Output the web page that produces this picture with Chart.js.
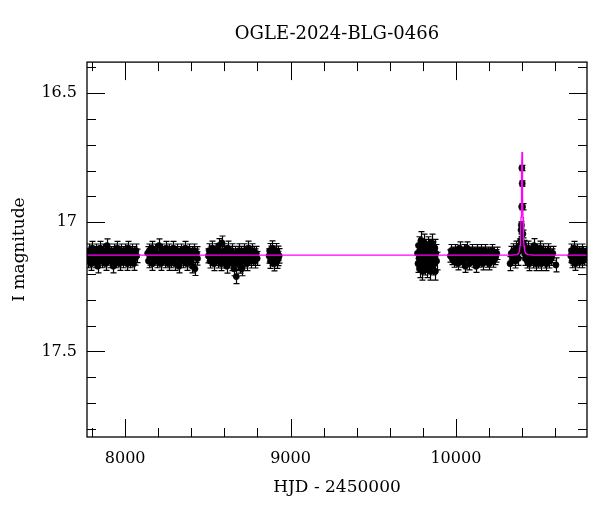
<!DOCTYPE html>
<html>
  <head>
    <script src="https://cdn.jsdelivr.net/npm/chart.js@4.4.1/dist/chart.umd.min.js"></script>
    <style>
      body {
        margin: 0;
        background: white;
      }
    </style>
  </head>
  <body>
    <canvas id="myChart" width="600" height="512"></canvas>
    <script>
      // Photometry, one array per observing season: [HJD - 2450000, I mag]
      var season1 = [
        [7772, 17.13], [7777, 17.15], [7782, 17.11], [7787, 17.14], [7791, 17.12], [7796, 17.16], [7801, 17.10], [7805, 17.13],
        [7810, 17.14], [7815, 17.12], [7820, 17.15], [7824, 17.11], [7829, 17.13], [7834, 17.17], [7838, 17.12], [7843, 17.14],
        [7848, 17.10], [7853, 17.13], [7857, 17.15], [7862, 17.12], [7867, 17.11], [7871, 17.14], [7876, 17.13], [7881, 17.16],
        [7886, 17.12], [7890, 17.09], [7895, 17.14], [7900, 17.13], [7904, 17.11], [7909, 17.15], [7914, 17.12], [7919, 17.14],
        [7923, 17.13], [7928, 17.17], [7933, 17.11], [7937, 17.12], [7942, 17.15], [7947, 17.13], [7952, 17.10], [7956, 17.14],
        [7961, 17.12], [7966, 17.16], [7970, 17.13], [7975, 17.11], [7980, 17.14], [7985, 17.12], [7989, 17.15], [7994, 17.13],
        [7999, 17.11], [8003, 17.14], [8008, 17.12], [8013, 17.16], [8018, 17.10], [8022, 17.13], [8027, 17.15], [8032, 17.12],
        [8036, 17.14], [8041, 17.11], [8046, 17.13], [8051, 17.16], [8055, 17.12], [8060, 17.14], [8065, 17.11], [8069, 17.13]
      ];
      var season2 = [
        [8136, 17.12], [8141, 17.15], [8146, 17.11], [8151, 17.14], [8156, 17.13], [8160, 17.10], [8165, 17.16], [8170, 17.12],
        [8175, 17.14], [8180, 17.11], [8185, 17.13], [8190, 17.15], [8194, 17.12], [8199, 17.14], [8204, 17.09], [8209, 17.13],
        [8214, 17.16], [8219, 17.12], [8223, 17.11], [8228, 17.14], [8233, 17.13], [8238, 17.15], [8243, 17.12], [8248, 17.10],
        [8252, 17.14], [8257, 17.13], [8262, 17.16], [8267, 17.11], [8272, 17.13], [8277, 17.15], [8281, 17.12], [8286, 17.14],
        [8291, 17.10], [8296, 17.13], [8301, 17.16], [8306, 17.12], [8310, 17.14], [8315, 17.11], [8320, 17.13], [8325, 17.17],
        [8330, 17.12], [8335, 17.14], [8339, 17.11], [8344, 17.13], [8349, 17.15], [8354, 17.12], [8359, 17.14], [8364, 17.10],
        [8368, 17.13], [8373, 17.16], [8378, 17.12], [8383, 17.14], [8388, 17.11], [8393, 17.13], [8397, 17.15], [8402, 17.12],
        [8407, 17.17], [8412, 17.13], [8417, 17.11], [8422, 17.18], [8427, 17.13], [8432, 17.12], [8437, 17.14]
      ];
      var season3 = [
        [8503, 17.13], [8508, 17.11], [8513, 17.15], [8518, 17.12], [8522, 17.14], [8527, 17.10], [8532, 17.13], [8537, 17.16],
        [8542, 17.12], [8547, 17.14], [8551, 17.11], [8556, 17.13], [8561, 17.15], [8566, 17.09], [8571, 17.14], [8576, 17.12],
        [8580, 17.16], [8585, 17.08], [8590, 17.13], [8595, 17.15], [8600, 17.11], [8605, 17.14], [8609, 17.12], [8614, 17.17],
        [8619, 17.10], [8624, 17.13], [8629, 17.15], [8634, 17.12], [8638, 17.14], [8643, 17.11], [8648, 17.16], [8653, 17.13],
        [8658, 17.18], [8663, 17.12], [8667, 17.14], [8672, 17.21], [8677, 17.13], [8682, 17.16], [8687, 17.11], [8692, 17.14],
        [8696, 17.17], [8701, 17.12], [8706, 17.18], [8711, 17.13], [8716, 17.15], [8721, 17.11], [8725, 17.14], [8730, 17.12],
        [8735, 17.16], [8740, 17.13], [8745, 17.10], [8750, 17.14], [8754, 17.12], [8759, 17.15], [8764, 17.13], [8769, 17.11],
        [8774, 17.14], [8779, 17.12], [8783, 17.15], [8788, 17.13], [8793, 17.12], [8798, 17.14]
      ];
      var season4 = [
        [8870, 17.13], [8874, 17.11], [8878, 17.15], [8882, 17.12], [8886, 17.14], [8890, 17.10], [8894, 17.13], [8898, 17.16],
        [8902, 17.12], [8906, 17.14], [8910, 17.11], [8914, 17.13], [8918, 17.15], [8922, 17.12], [8926, 17.14], [8931, 17.13]
      ];
      var season5 = [
        [9768, 17.12], [9771, 17.16], [9774, 17.09], [9777, 17.14], [9780, 17.18], [9783, 17.11], [9786, 17.13], [9789, 17.07],
        [9792, 17.15], [9795, 17.12], [9798, 17.19], [9801, 17.10], [9804, 17.14], [9807, 17.16], [9810, 17.08], [9813, 17.13],
        [9816, 17.17], [9819, 17.11], [9822, 17.15], [9825, 17.12], [9828, 17.18], [9831, 17.09], [9834, 17.14], [9837, 17.16],
        [9840, 17.10], [9843, 17.13], [9846, 17.19], [9849, 17.12], [9852, 17.15], [9855, 17.08], [9858, 17.14], [9861, 17.17],
        [9864, 17.11], [9867, 17.13], [9870, 17.16], [9873, 17.10], [9876, 17.19], [9879, 17.12], [9883, 17.15]
      ];
      var season6 = [
        [9967, 17.13], [9972, 17.11], [9977, 17.14], [9982, 17.12], [9987, 17.15], [9992, 17.13], [9997, 17.11], [10002, 17.14],
        [10007, 17.12], [10012, 17.16], [10017, 17.13], [10022, 17.10], [10027, 17.14], [10032, 17.12], [10037, 17.15], [10042, 17.13],
        [10047, 17.11], [10052, 17.14], [10057, 17.17], [10062, 17.12], [10067, 17.10], [10072, 17.14], [10077, 17.13], [10082, 17.16],
        [10087, 17.12], [10092, 17.14], [10097, 17.11], [10102, 17.13], [10107, 17.15], [10112, 17.12], [10117, 17.14], [10122, 17.17],
        [10127, 17.11], [10132, 17.13], [10137, 17.15], [10142, 17.12], [10147, 17.14], [10152, 17.11], [10157, 17.13], [10162, 17.16],
        [10167, 17.12], [10172, 17.14], [10177, 17.11], [10182, 17.13], [10187, 17.15], [10192, 17.12], [10197, 17.14], [10202, 17.16],
        [10207, 17.12], [10212, 17.13], [10217, 17.11], [10222, 17.15], [10227, 17.13], [10232, 17.12], [10237, 17.14], [10242, 17.13],
        [10247, 17.12]
      ];
      var season7 = [
        [10328, 17.16], [10335, 17.12], [10342, 17.14], [10348, 17.11], [10354, 17.13], [10360, 17.15], [10366, 17.10], [10372, 17.12],
        [10378, 17.14], [10384, 17.11], [10388, 17.09], [10412, 17.10], [10416, 17.12], [10420, 17.14], [10424, 17.11], [10428, 17.13],
        [10432, 17.15], [10436, 17.10], [10440, 17.13], [10444, 17.16], [10448, 17.12], [10452, 17.14], [10456, 17.11], [10460, 17.13],
        [10464, 17.15], [10468, 17.12], [10472, 17.09], [10476, 17.14], [10480, 17.13], [10484, 17.16], [10488, 17.11], [10492, 17.13],
        [10496, 17.15], [10500, 17.12], [10504, 17.14], [10508, 17.10], [10512, 17.13], [10516, 17.16], [10520, 17.12], [10524, 17.14],
        [10528, 17.11], [10532, 17.13], [10536, 17.15], [10540, 17.12], [10544, 17.14], [10548, 17.16], [10552, 17.12], [10556, 17.13],
        [10560, 17.11], [10564, 17.15], [10568, 17.13], [10572, 17.12], [10576, 17.14], [10580, 17.13], [10586, 17.12], [10605, 17.165]
      ];
      var season8 = [
        [10695, 17.13], [10699, 17.11], [10703, 17.15], [10707, 17.12], [10711, 17.14], [10715, 17.10], [10719, 17.13], [10723, 17.16],
        [10727, 17.12], [10731, 17.14], [10735, 17.11], [10739, 17.13], [10743, 17.15], [10747, 17.12], [10751, 17.14], [10755, 17.13],
        [10760, 17.11], [10765, 17.15], [10770, 17.12], [10775, 17.14], [10780, 17.13], [10786, 17.12], [10791, 17.14]
      ];
      var seasons = [season1, season2, season3, season4, season5, season6, season7, season8];
      // typical error bar (mag) per season
      var seasonErr = [0.026, 0.026, 0.027, 0.028, 0.034, 0.024, 0.027, 0.026];

      // points over the peak: [HJD, mag, err]
      var peakPoints = [
        [10392, 17.07, 0.015], [10394, 17.03, 0.015], [10396, 17.01, 0.012], [10398, 16.94, 0.012], [10399, 16.79, 0.01],
        [10401, 16.85, 0.01], [10403, 16.94, 0.012], [10405, 17.045, 0.015], [10407, 17.08, 0.02], [10409, 17.09, 0.02]
      ];

      // fitted model curve: [HJD, mag]
      var modelCurve = [
        [7769, 17.127], [10340, 17.127], [10370, 17.125], [10380, 17.12], [10385, 17.11], [10388, 17.09], [10390, 17.07],
        [10392, 17.04], [10394, 16.98], [10396, 16.9], [10398, 16.8], [10400, 16.728], [10402, 16.8], [10404, 16.9],
        [10406, 16.98], [10408, 17.04], [10410, 17.07], [10412, 17.09], [10416, 17.11], [10422, 17.12], [10435, 17.125],
        [10470, 17.127], [10793, 17.127]
      ];

      // axis ticks
      var xMajorTicks = [8000, 9000, 10000];
      var xMinorTicks = [7800, 8200, 8400, 8600, 8800, 9200, 9400, 9600, 9800, 10200, 10400, 10600];
      var yMajorTicks = [16.5, 17, 17.5];
      var yMinorTicks = [16.4, 16.6, 16.7, 16.8, 16.9, 17.1, 17.2, 17.3, 17.4, 17.6, 17.7, 17.8];

      var serif = "'DejaVu Serif', serif";

      // flatten the photometry into chart points with error
      var obsData = [];
      for (var s = 0; s < seasons.length; s++) {
        for (var i = 0; i < seasons[s].length; i++) {
          obsData.push({ x: seasons[s][i][0], y: seasons[s][i][1], e: seasonErr[s] });
        }
      }
      for (var i = 0; i < peakPoints.length; i++) {
        obsData.push({ x: peakPoints[i][0], y: peakPoints[i][1], e: peakPoints[i][2] });
      }
      var modelData = modelCurve.map(function (p) {
        return { x: p[0], y: p[1] };
      });

      // error bars, drawn under the dots
      var errorBars = {
        id: "errorBars",
        beforeDatasetsDraw: function (chart) {
          var ctx = chart.ctx;
          var xs = chart.scales.x;
          var ys = chart.scales.y;
          var area = chart.chartArea;
          ctx.save();
          ctx.beginPath();
          ctx.rect(area.left, area.top, area.right - area.left, area.bottom - area.top);
          ctx.clip();
          ctx.strokeStyle = "#000";
          ctx.lineWidth = 1.2;
          ctx.beginPath();
          obsData.forEach(function (p) {
            var px = Math.round(xs.getPixelForValue(p.x)) + 0.5;
            var y1 = ys.getPixelForValue(p.y - p.e);
            var y2 = ys.getPixelForValue(p.y + p.e);
            ctx.moveTo(px, y1);
            ctx.lineTo(px, y2);
            ctx.moveTo(px - 3, y1);
            ctx.lineTo(px + 3, y1);
            ctx.moveTo(px - 3, y2);
            ctx.lineTo(px + 3, y2);
          });
          ctx.stroke();
          ctx.restore();
        },
      };

      // frame with inward ticks on all four sides
      var frameTicks = {
        id: "frameTicks",
        afterDraw: function (chart) {
          var ctx = chart.ctx;
          var xs = chart.scales.x;
          var ys = chart.scales.y;
          var a = chart.chartArea;
          ctx.save();
          ctx.strokeStyle = "#000";
          ctx.lineWidth = 1;
          ctx.beginPath();
          function xTick(v, len) {
            var px = Math.round(xs.getPixelForValue(v)) + 0.5;
            ctx.moveTo(px, a.bottom);
            ctx.lineTo(px, a.bottom - len);
            ctx.moveTo(px, a.top);
            ctx.lineTo(px, a.top + len);
          }
          function yTick(v, len) {
            var py = Math.round(ys.getPixelForValue(v)) + 0.5;
            ctx.moveTo(a.left, py);
            ctx.lineTo(a.left + len, py);
            ctx.moveTo(a.right, py);
            ctx.lineTo(a.right - len, py);
          }
          xMajorTicks.forEach(function (v) { xTick(v, 18); });
          xMinorTicks.forEach(function (v) { xTick(v, 9); });
          yMajorTicks.forEach(function (v) { yTick(v, 18); });
          yMinorTicks.forEach(function (v) { yTick(v, 9); });
          ctx.stroke();
          ctx.lineWidth = 1.3;
          ctx.strokeRect(a.left, a.top, a.right - a.left, a.bottom - a.top);
          ctx.restore();
        },
      };

      var ctx = document.getElementById("myChart").getContext("2d");
      var chart = new Chart(ctx, {
        type: "scatter",
        data: {
          datasets: [
            {
              label: "model",
              data: modelData,
              showLine: true,
              borderColor: "#ff00ff",
              borderWidth: 1.3,
              pointRadius: 0,
              tension: 0,
              clip: 0,
            },
            {
              label: "OGLE I",
              data: obsData,
              backgroundColor: "#000",
              borderColor: "#000",
              borderWidth: 0.6,
              pointRadius: 3.1,
              clip: 0,
            },
          ],
        },
        options: {
          responsive: false,
          animation: false,
          events: [],
          layout: {
            padding: { left: 0, right: 13, top: 0, bottom: 0 },
          },
          plugins: {
            legend: { display: false },
            tooltip: { enabled: false },
            title: {
              display: true,
              fullSize: false,
              text: "OGLE-2024-BLG-0466",
              color: "#000",
              font: { family: serif, size: 18, weight: "normal" },
              padding: { top: 24, bottom: 16.5 },
            },
          },
          scales: {
            x: {
              type: "linear",
              min: 7769,
              max: 10793,
              grid: { display: false, drawTicks: false },
              border: { display: false },
              afterBuildTicks: function (scale) {
                scale.ticks = xMajorTicks.map(function (v) { return { value: v }; });
              },
              afterFit: function (scale) {
                scale.height = 75;
              },
              ticks: {
                color: "#000",
                padding: 12,
                font: { family: serif, size: 16 },
                callback: function (v) { return String(v); },
              },
              title: {
                display: true,
                text: "HJD - 2450000",
                color: "#000",
                font: { family: serif, size: 17 },
                padding: { top: 0, bottom: 14 },
              },
            },
            y: {
              type: "linear",
              reverse: true,
              min: 16.38,
              max: 17.831,
              grid: { display: false, drawTicks: false },
              border: { display: false },
              afterBuildTicks: function (scale) {
                scale.ticks = yMajorTicks.map(function (v) { return { value: v }; });
              },
              afterFit: function (scale) {
                scale.width = 87;
              },
              ticks: {
                color: "#000",
                padding: 10,
                font: { family: serif, size: 16 },
                callback: function (v) { return String(v); },
              },
              title: {
                display: true,
                text: "I magnitude",
                color: "#000",
                font: { family: serif, size: 17 },
                padding: { top: 9, bottom: 0 },
              },
            },
          },
        },
        plugins: [errorBars, frameTicks],
      });
    </script>
  </body>
</html>
